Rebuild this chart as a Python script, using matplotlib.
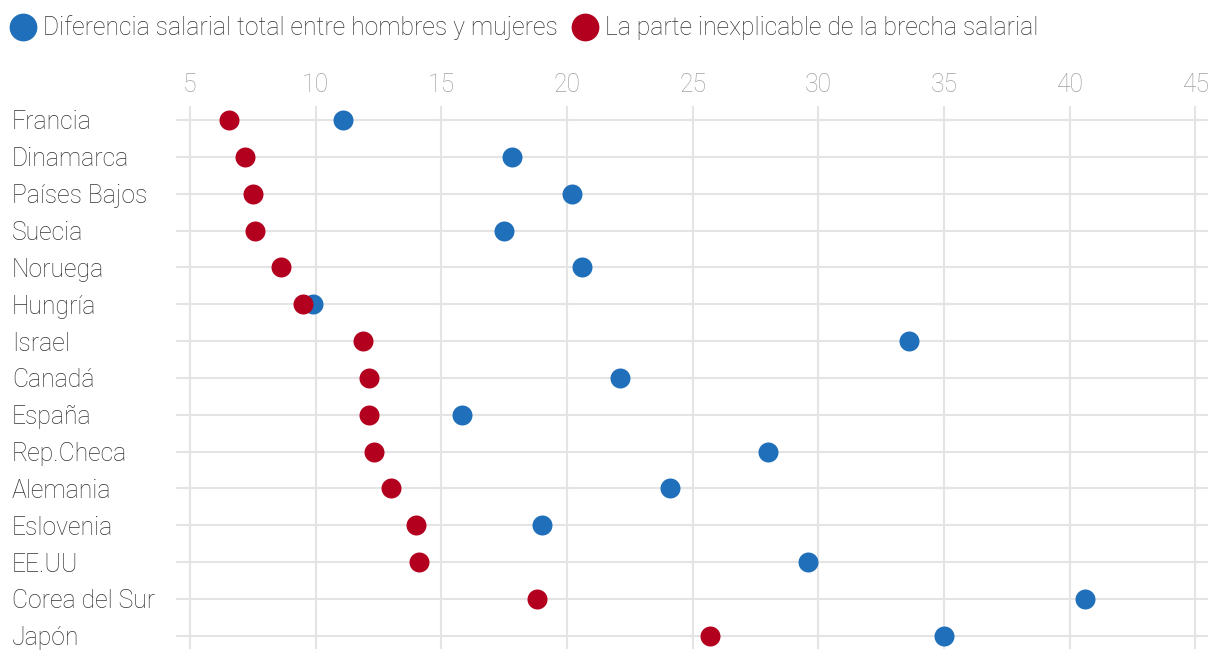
import matplotlib
matplotlib.use("Agg")
import matplotlib.pyplot as plt
from matplotlib.lines import Line2D

countries = ["Francia", "Dinamarca", "Países Bajos", "Suecia", "Noruega", "Hungría",
             "Israel", "Canadá", "España", "Rep.Checa", "Alemania", "Eslovenia",
             "EE.UU", "Corea del Sur", "Japón"]
total_gap = [11.1, 17.8, 20.2, 17.5, 20.6, 9.9, 33.6, 22.1, 15.8, 28.0, 24.1, 19.0,
             29.6, 40.6, 35.0]
unexplained_gap = [6.55, 7.2, 7.5, 7.6, 8.6, 9.5, 11.9, 12.1, 12.1, 12.3, 13.0, 14.0,
                   14.1, 18.8, 25.7]
x_ticks = [5, 10, 15, 20, 25, 30, 35, 40, 45]

BLUE = "#1f6fba"
RED = "#b3001f"
GRID = "#e4e4e4"
TEXT = "#333333"
TICK = "#a0a0a0"
FS = 17.8

plt.rcParams["font.family"] = ["Roboto", "DejaVu Sans"]

fig = plt.figure(figsize=(12.2, 6.62), dpi=100)
ax = fig.add_axes([176 / 1220, 13 / 662, 1032 / 1220, 543 / 662])

ypos = list(range(len(countries)))
ax.plot(total_gap, ypos, "o", color=BLUE, markersize=14.4, markeredgewidth=0, zorder=3)
ax.plot(unexplained_gap, ypos, "o", color=RED, markersize=14.4, markeredgewidth=0, zorder=4)

ax.set_xlim(4.44, 45.5)
ax.set_ylim(14.36, -0.38)
ax.set_xticks(x_ticks)
ax.set_yticks(ypos)
ax.xaxis.tick_top()
ax.tick_params(axis="x", length=0, pad=6.5, labelsize=FS, labelcolor=TICK)
ax.tick_params(axis="y", length=0, labelleft=False)
for lbl in ax.get_xticklabels():
    lbl.set_fontweight("light")
ax.grid(True, color=GRID, linewidth=1.5)
ax.set_axisbelow(True)
for s in ax.spines.values():
    s.set_visible(False)

trans = matplotlib.transforms.blended_transform_factory(fig.transFigure, ax.transData)
for y, name in zip(ypos, countries):
    ax.text(12 / 1220, y, name, transform=trans, ha="left", va="center_baseline",
            fontsize=FS, color=TEXT, fontweight="light")

handles = [
    Line2D([], [], marker="o", linestyle="", color=BLUE, markersize=20, markeredgewidth=0),
    Line2D([], [], marker="o", linestyle="", color=RED, markersize=20, markeredgewidth=0),
]
labels = ["Diferencia salarial total entre hombres y mujeres",
          "La parte inexplicable de la brecha salarial"]
leg = fig.legend(handles, labels, loc="center left", bbox_to_anchor=(11 / 1220, 1 - 28 / 662),
                 ncol=2, frameon=False, handlelength=1.0, handletextpad=0.3,
                 columnspacing=0.6, borderaxespad=0.0, borderpad=0.0,
                 prop={"size": FS, "weight": "light"})
for t in leg.get_texts():
    t.set_color(TEXT)

fig.savefig("out.png", dpi=100)
